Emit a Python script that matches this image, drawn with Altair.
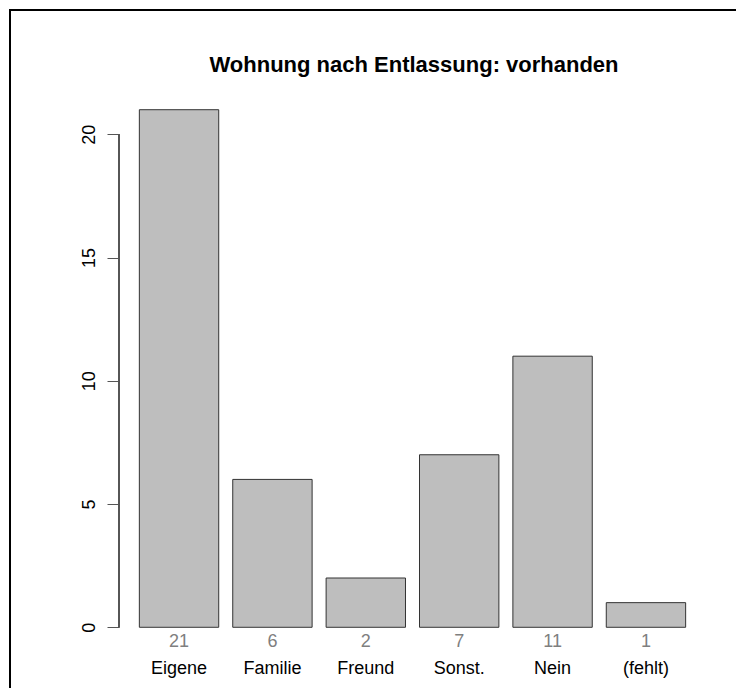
import altair as alt
import pandas as pd

categories = ["Eigene", "Familie", "Freund", "Sonst.", "Nein", "(fehlt)"]
counts = [21, 6, 2, 7, 11, 1]
y_ticks = [0, 5, 10, 15, 20]
title_text = "Wohnung nach Entlassung: vorhanden"

df = pd.DataFrame({"cat": categories, "n": counts})
FONT = "Liberation Sans"

xenc = alt.X(
    "cat:N",
    sort=categories,
    scale=alt.Scale(paddingInner=0.15, paddingOuter=0.218),
    axis=alt.Axis(
        title=None, domain=False, ticks=False, tickSize=0, labelAngle=0,
        labelFontSize=18, labelColor="#000000", labelFont=FONT,
        labelBaseline="alphabetic", labelPadding=25,
    ),
)
yscale = alt.Scale(domain=[-0.84, 21.84], nice=False, zero=False)

base = alt.Chart(df)

bars = base.mark_bar(fill="#bebebe", stroke="#333333", strokeWidth=1).encode(
    x=xenc,
    y=alt.Y(
        "n:Q",
        scale=yscale,
        axis=alt.Axis(
            title=None, values=y_ticks, domain=False, grid=False,
            tickSize=12, tickColor="#555555", tickWidth=1,
            labelAngle=270, labelAlign="center", labelBaseline="bottom",
            labelPadding=9, labelFontSize=18, labelColor="#000000", labelFont=FONT,
        ),
    ),
    y2=alt.datum(0),
)

count_text = base.mark_text(
    baseline="alphabetic", dy=20, fontSize=18, color="#7f7f7f", font=FONT
).encode(
    x=alt.X("cat:N", sort=categories),
    y=alt.datum(0),
    text="n:Q",
)

axis_line = base.mark_rule(color="#555555", strokeWidth=1).encode(
    x=alt.value(0),
    y=alt.datum(0),
    y2=alt.datum(20),
)

title_mark = alt.Chart(alt.Data(values=[{"t": title_text}])).mark_text(
    fontSize=22, fontWeight="bold", font=FONT, color="#000000",
    align="center", baseline="alphabetic",
).encode(
    x=alt.value(295), y=alt.value(-17), text="t:N"
)

frame_left = alt.Chart(alt.Data(values=[{}])).mark_rule(color="#000000", strokeWidth=2).encode(
    x=alt.value(-109), y=alt.value(-79), y2=alt.value(640)
)
frame_top = alt.Chart(alt.Data(values=[{}])).mark_rule(color="#000000", strokeWidth=2).encode(
    x=alt.value(-110), x2=alt.value(660), y=alt.value(-79)
)

chart = (
    alt.layer(frame_left, frame_top, bars, axis_line, count_text, title_mark)
    .properties(
        width=587,
        height=559,
        autosize=alt.AutoSizeParams(type="none"),
        padding={"left": 111, "top": 81, "right": 30, "bottom": 40},
    )
    .configure(font=FONT)
    .configure_view(strokeWidth=0)
)

chart.save("out.html", embed_options={"renderer": "svg", "actions": False})
